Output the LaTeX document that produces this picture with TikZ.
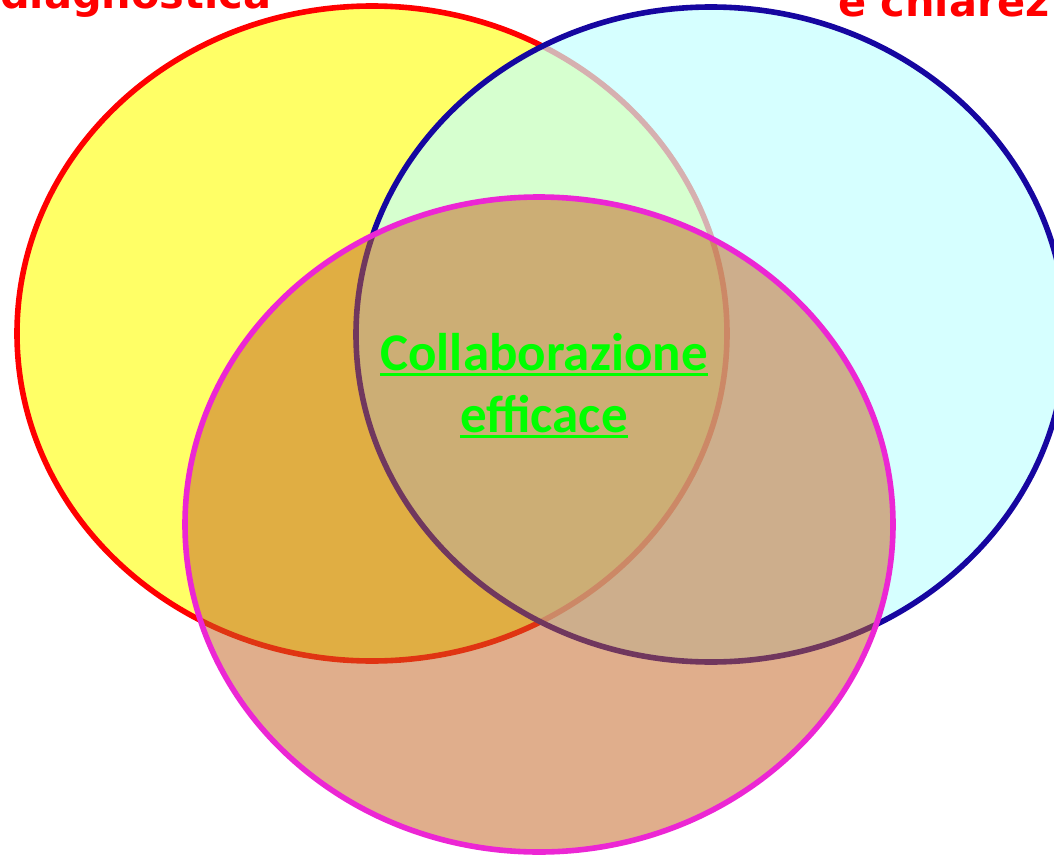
\documentclass[tikz,border=0pt]{standalone}
\usepackage{fontspec}
\newfontfamily\dvfont{DejaVu Sans}
\newfontfamily\carlfont{Carlito}
\definecolor{yfill}{RGB}{255,255,102}
\definecolor{rstroke}{RGB}{255,0,0}
\definecolor{cfill}{RGB}{196,255,255}
\definecolor{bstroke}{RGB}{22,6,160}
\definecolor{ofill}{RGB}{196,100,35}
\definecolor{mstroke}{RGB}{236,38,212}
\definecolor{gtext}{RGB}{0,255,0}
\newcommand\grul[1]{\setbox0\hbox{#1}\rlap{\rule[-6pt]{\wd0}{3.2pt}}\box0}
\tikzset{
  venn/.style={line width=5.6pt},
  toplabel/.style={inner sep=0pt, text=rstroke, font=\dvfont\bfseries\fontsize{41.5}{49}\selectfont},
  centerlabel/.style={inner sep=0pt, anchor=base, text=gtext, font=\carlfont\bfseries\fontsize{53}{62}\selectfont}
}
\begin{document}
\begin{tikzpicture}[x=1pt,y=-1pt]
\useasboundingbox (0,0) rectangle (1054,856);
\clip (0,0) rectangle (1054,856);
% yellow (left)
\draw[venn, draw=rstroke, fill=yfill] (372,333.5) ellipse [x radius=355, y radius=327.5];
% cyan (right)
\draw[venn, draw=bstroke, fill=cfill, fill opacity=0.69] (711,334.5) ellipse [x radius=355, y radius=327.5];
% bottom
\draw[venn, draw=mstroke, fill=ofill, fill opacity=0.52] (539,524.5) ellipse [x radius=354, y radius=327.5];
% labels
\node[toplabel, anchor=base west] (labA) at (0,8.5) {diagnostica};
\node[toplabel, anchor=base west] (labB) at (838,16.5) {e chiarez};
\node[centerlabel] (c1) at (544,370) {\grul{Collaborazione}};
\node[centerlabel] (c2) at (544,432) {\grul{efficace}};
\end{tikzpicture}
\end{document}
